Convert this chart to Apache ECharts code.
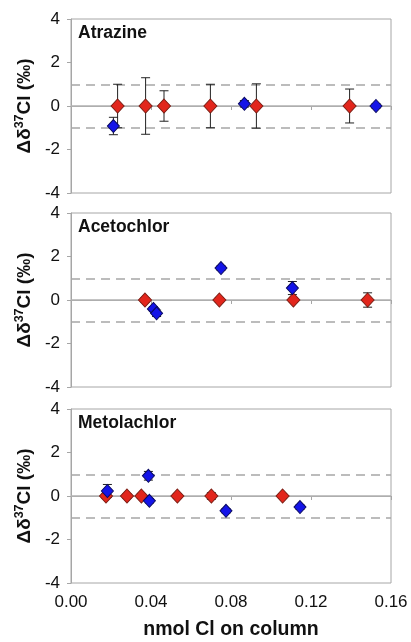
<!DOCTYPE html>
<html><head><meta charset="utf-8">
<script src="https://cdn.jsdelivr.net/npm/echarts@6/dist/echarts.min.js"></script>
<style>html,body{margin:0;padding:0;background:#fff}#c{width:411px;height:642px}</style>
</head><body><div id="c"></div>
<script>
// ---- Data ----
var panelNames = ['Atrazine', 'Acetochlor', 'Metolachlor'];
var xTicks = ['0.00', '0.04', '0.08', '0.12', '0.16'];
var yTicks = [-4, -2, 0, 2, 4];

var atrazineRedX = [0.0233, 0.0373, 0.0465, 0.0697, 0.0927, 0.1393];
var atrazineRedY = [0, 0, 0, 0, 0, 0];
var atrazineRedErr = [1.0, 1.3, 0.7, 1.0, 1.02, 0.78];
var atrazineBlueX = [0.0212, 0.0867, 0.1525];
var atrazineBlueY = [-0.92, 0.1, 0.0];
var atrazineBlueErr = [0.4, 0.15, 0.1];

var acetochlorRedX = [0.037, 0.0742, 0.1112, 0.1483];
var acetochlorRedY = [0, 0, 0, 0];
var acetochlorRedErr = [0.1, 0.1, 0.1, 0.33];
var acetochlorBlueX = [0.0412, 0.0428, 0.075, 0.1107];
var acetochlorBlueY = [-0.41, -0.61, 1.47, 0.55];
var acetochlorBlueErr = [0.1, 0.15, 0.1, 0.3];

var metolachlorRedX = [0.0175, 0.028, 0.0352, 0.0532, 0.0702, 0.1058];
var metolachlorRedY = [0, 0, 0, 0, 0, 0];
var metolachlorRedErr = [0.1, 0.1, 0.1, 0.1, 0.15, 0.1];
var metolachlorBlueX = [0.0182, 0.0387, 0.0392, 0.0775, 0.1145];
var metolachlorBlueY = [0.23, 0.93, -0.22, -0.68, -0.51];
var metolachlorBlueErr = [0.3, 0.2, 0.1, 0.1, 0.1];

var panels = [
  {red: [atrazineRedX, atrazineRedY, atrazineRedErr], blue: [atrazineBlueX, atrazineBlueY, atrazineBlueErr]},
  {red: [acetochlorRedX, acetochlorRedY, acetochlorRedErr], blue: [acetochlorBlueX, acetochlorBlueY, acetochlorBlueErr]},
  {red: [metolachlorRedX, metolachlorRedY, metolachlorRedErr], blue: [metolachlorBlueX, metolachlorBlueY, metolachlorBlueErr]}
];

// ---- Build ----
var FONT = '"Liberation Sans", Arial, sans-serif';
var GRAY = '#a6a6a6';
var gridTops = [19, 213, 409];
var gridH = 174;

function zip(a) { return a[0].map(function (x, i) { return [x, a[1][i], a[2][i]]; }); }

var grids = [], xAxes = [], yAxes = [], series = [], titles = [];
panels.forEach(function (p, i) {
  grids.push({left: 71, width: 320, top: gridTops[i], height: gridH, show: true,
    borderColor: GRAY, borderWidth: 1, backgroundColor: 'transparent'});
  var last = i === 2;
  xAxes.push({gridIndex: i, type: 'value', min: 0, max: 0.16, interval: 0.04,
    axisLine: {show: true, lineStyle: {color: GRAY}},
    axisTick: {show: true, inside: false, length: 4, lineStyle: {color: GRAY}},
    splitLine: {show: false},
    axisLabel: {show: last, margin: 11, color: '#111', fontFamily: FONT, fontSize: 17,
      formatter: function (v) { return xTicks[Math.round(v / 0.04)]; }},
    name: last ? 'nmol Cl on column' : '', nameLocation: 'middle', nameGap: 37,
    nameTextStyle: {fontFamily: FONT, fontWeight: 'bold', fontSize: 19.5, color: '#111'}
  });
  yAxes.push({gridIndex: i, type: 'value', min: yTicks[0], max: yTicks[yTicks.length - 1], interval: 2,
    axisLine: {show: true, lineStyle: {color: GRAY}},
    axisTick: {show: true, inside: false, length: 4, lineStyle: {color: GRAY}},
    splitLine: {show: false},
    axisLabel: {margin: 11, color: '#111', fontFamily: FONT, fontSize: 17},
    name: '{a|Δδ}{s|37}{a|Cl (‰)}', nameLocation: 'middle', nameGap: 34, nameRotate: 90,
    nameTextStyle: {rich: {
      a: {fontFamily: FONT, fontWeight: 'bold', fontSize: 19, color: '#111'},
      s: {fontFamily: FONT, fontWeight: 'bold', fontSize: 12.5, color: '#111', verticalAlign: 'top', padding: [0, 0, 9, 0]}
    }}
  });
  titles.push({text: panelNames[i], left: 78, top: gridTops[i] + 5, padding: 0,
    textStyle: {fontFamily: FONT, fontWeight: 'bold', fontSize: 17.5, color: '#111'}});

  var all = zip(p.red).concat(zip(p.blue));
  series.push({type: 'custom', xAxisIndex: i, yAxisIndex: i, silent: true, z: 2,
    data: all,
    renderItem: function (params, api) {
      var x = api.value(0), y = api.value(1), e = api.value(2);
      var top = api.coord([x, y + e]), bot = api.coord([x, y - e]);
      var cw = 4.5;
      var st = {stroke: '#222', lineWidth: 1};
      return {type: 'group', children: [
        {type: 'line', shape: {x1: top[0], y1: top[1], x2: bot[0], y2: bot[1]}, style: st},
        {type: 'line', shape: {x1: top[0] - cw, y1: top[1], x2: top[0] + cw, y2: top[1]}, style: st},
        {type: 'line', shape: {x1: bot[0] - cw, y1: bot[1], x2: bot[0] + cw, y2: bot[1]}, style: st}
      ]};
    }
  });
  series.push({type: 'scatter', xAxisIndex: i, yAxisIndex: i, z: 3,
    data: zip(p.red).map(function (d) { return [d[0], d[1]]; }),
    symbol: 'diamond', symbolSize: [13, 14],
    itemStyle: {color: '#e2261c', borderColor: '#7a1a10', borderWidth: 1, opacity: 1},
    markLine: {silent: true, symbol: 'none', z: 1, label: {show: false},
      animation: false,
      data: [
        {yAxis: 0, lineStyle: {color: '#b0b0b0', type: 'solid', width: 1.5}},
        {yAxis: 1, lineStyle: {color: GRAY, type: [9, 6], width: 1.5}},
        {yAxis: -1, lineStyle: {color: GRAY, type: [9, 6], width: 1.5}}
      ]}
  });
  series.push({type: 'scatter', xAxisIndex: i, yAxisIndex: i, z: 4,
    data: zip(p.blue).map(function (d) { return [d[0], d[1]]; }),
    symbol: 'diamond', symbolSize: [12, 13],
    itemStyle: {color: '#1414e8', borderColor: '#0a0a60', borderWidth: 1, opacity: 1}
  });
});

var chart = echarts.init(document.getElementById('c'), null, {renderer: 'canvas'});
chart.setOption({
  animation: false,
  backgroundColor: '#fff',
  title: titles,
  grid: grids,
  xAxis: xAxes,
  yAxis: yAxes,
  series: series
});
</script>
</body></html>
